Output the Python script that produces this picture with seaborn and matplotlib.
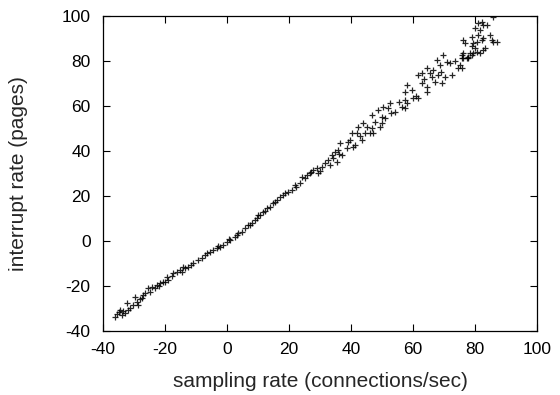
import matplotlib
matplotlib.use("Agg")
import matplotlib.pyplot as plt
import seaborn as sns
import pandas as pd

sampling_rate = [
    -36.1, -35.0, -34.0, -34.5, -32.9, -32.4, -31.3, -30.2, -29.7, -29.1, -28.6, -27.5, -27.0, -26.5,
    -25.4, -24.3, -23.2, -22.7, -21.6, -20.5, -19.5, -20.0, -18.9, -17.3, -16.2, -15.2, -14.1,
    -14.6, -13.5, -12.5, -10.9, -9.3, -8.2, -6.5, -5.5, -4.4, -3.3, -2.3, -1.2, -0.1, 1.0, 2.6, 3.6,
    4.7, 5.8, 6.9, 8.0, 9.0, 10.1,
    9.6, 10.6, 11.7, 12.8, 13.9, 14.9, 16.0, 17.1, 18.7, 19.8, 20.9, 21.9, 23.5, 24.1, 25.2, 25.7,
    26.8, 27.8, 28.9, 29.5, 30.5, 31.6, 32.7, 33.8, 33.2,
    34.3, 34.8, 35.9, 36.5, 35.4, 37.0, 38.6, 39.7, 40.7, 41.3, 40.2, 41.8, 42.4, 43.5, 44.0, 44.5,
    45.1, 46.1, 46.7, 47.2, 46.7, 48.8, 49.4, 49.9, 49.9, 51.0, 50.4, 52.0, 52.6, 54.2, 56.4, 58.0,
    57.4, 57.4, 58.0, 57.4, 59.6, 60.1, 61.7, 61.7, 62.8, 62.8, 64.4, 64.4, 64.4, 65.5, 66.5, 66.0,
    67.1, 67.7, 68.2, 68.7, 69.3, 69.8, 70.3, 70.9, 71.9, 72.5, 74.6, 75.2, 75.7, 76.2, 77.8, 78.9,
    80.5,
    75.7, 75.7, 76.2, 76.8, 76.2, 77.3, 77.8, 78.4, 78.9, 79.5, 80.0, 80.0, 80.5, 81.1, 81.1, 81.6,
    82.2, 82.2, 82.7, 82.7, 82.7, 83.2, 83.8, 84.8, 85.4, 85.9, 85.9, 87.0, 81.6, 79.5,
    -35.5, -33.5, -31.8, -28.0, -24.8, -22.0, -17.8, -11.5, -7.0, -2.8, 0.5, 3.1, 7.4, 12.2, 15.4,
    18.2, 22.4, 27.2, 30.0, 36.0, 39.0, 43.0, 47.8, 53.0, 55.5, 60.8, 63.5, 69.0, 73.6, 79.0,
]
interrupt_rate = [
    -33.8, -31.4, -32.9, -30.7, -32.1, -27.7, -29.9, -28.4, -24.7, -27.0, -28.4, -25.5, -24.0, -23.2,
    -21.0, -20.3, -21.0, -19.6, -18.8, -18.1, -15.9, -18.1, -17.3, -14.4, -13.6, -12.9, -11.4,
    -13.6, -12.1, -11.4, -9.9, -8.4, -7.7, -5.5, -4.8, -4.0, -3.2, -2.5, -1.8, -0.3, 0.4, 1.9, 3.4,
    4.1, 5.6, 7.1, 7.9, 9.3, 11.6,
    10.1, 11.6, 13.0, 14.5, 15.2, 16.8, 18.2, 19.7, 21.2, 21.9, 22.7, 24.9, 25.6, 28.6, 27.9, 29.3,
    30.1, 31.6, 32.3, 30.1, 33.0, 34.5, 36.0, 38.2, 33.8,
    36.8, 39.7, 40.4, 43.4, 35.2, 38.2, 41.2, 44.9, 41.9, 42.7, 47.9, 47.9, 50.8, 44.9, 52.3, 47.9,
    50.8, 47.9, 50.1, 47.9, 56.0, 58.2, 50.8, 52.3, 55.2, 54.5, 59.7, 59.0, 61.2, 57.5, 59.7, 61.2,
    59.0, 62.7, 69.3, 66.4, 67.1, 63.4, 63.4, 73.8, 74.5, 70.1, 76.8, 68.6, 66.4, 74.5, 76.0, 73.0,
    70.8, 80.4, 73.8, 78.2, 70.1, 82.7, 73.0, 79.7, 78.9, 73.8, 76.8, 78.2, 81.2, 83.4, 81.2, 82.7,
    84.1,
    76.8, 82.7, 89.3, 87.9, 81.2, 81.2, 81.9, 83.4, 90.8, 87.9, 85.6, 94.5, 88.6, 91.6, 96.8, 93.8,
    97.5, 89.3, 96.1, 90.1, 84.9, 85.6, 96.1, 91.6, 89.3, 99.7, 88.6, 88.6, 83.4, 83.4,
    -32.5, -31.0, -30.5, -25.8, -22.5, -19.8, -15.5, -10.8, -6.2, -2.4, 0.8, 2.8, 7.0, 13.4, 17.2,
    20.4, 24.0, 30.6, 31.2, 38.8, 44.0, 46.5, 52.8, 57.0, 61.8, 64.6, 72.0, 75.2, 80.0, 86.5,
]

df = pd.DataFrame({"x": sampling_rate, "y": interrupt_rate})

sns.set_style("ticks")
plt.rcParams["font.family"] = ["Liberation Sans", "DejaVu Sans"]
plt.rcParams["axes.unicode_minus"] = False

fig = plt.figure(figsize=(5.6, 3.95), dpi=100)
ax = fig.add_axes([0.184, 0.162, 0.775, 0.7975])

sns.scatterplot(data=df, x="x", y="y", marker="+", color="black", s=16,
                linewidth=0.9, alpha=0.85, ax=ax, legend=False)

ax.set_xlim(-40, 100)
ax.set_ylim(-40, 100)
ax.set_xticks(range(-40, 101, 20))
ax.set_yticks(range(-40, 101, 20))
ax.tick_params(direction="in", length=5, width=0.8, top=True, right=True,
               labelsize=12.5, colors="black")
ax.tick_params(axis="x", pad=8)
ax.tick_params(axis="y", pad=9)
for sp in ax.spines.values():
    sp.set_visible(True)
    sp.set_linewidth(0.9)
    sp.set_color("black")
ax.set_xlabel("sampling rate (connections/sec)", fontsize=15, labelpad=11)
ax.set_ylabel("interrupt rate (pages)", fontsize=15, labelpad=24)

fig.savefig("out.png", dpi=100)
